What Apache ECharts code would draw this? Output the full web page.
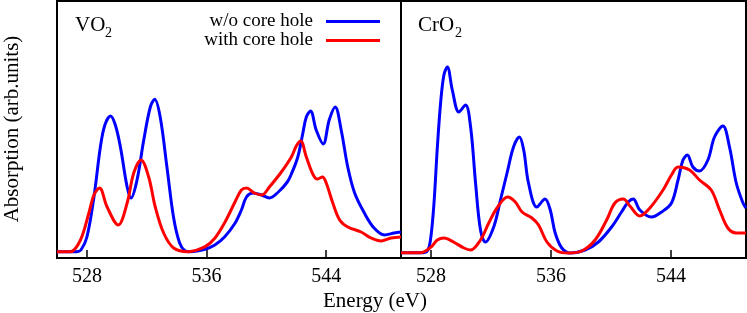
<!DOCTYPE html>
<html>
<head>
<meta charset="utf-8">
<script src="https://cdn.jsdelivr.net/npm/echarts@6/dist/echarts.min.js"></script>
<style>
  html, body { margin: 0; padding: 0; background: #fff; }
  #chart { width: 747px; height: 313px; }
</style>
</head>
<body>
<div id="chart"></div>
<script>
// energy ticks (eV)
var energyTicks = [528, 536, 544];

// VO2, without core hole
var vo2NoHoleE = [526, 527.3, 527.6, 528.0, 528.47, 528.9, 529.2, 529.58, 529.9, 530.24, 530.69, 530.95, 531.35, 531.8, 532.24, 532.53, 532.9, 533.35, 533.8, 534.2, 534.55, 534.9, 535.9, 536.55, 537.2, 537.9, 538.33, 538.67, 539.1, 539.67, 540.2, 540.8, 541.4, 541.67, 542.1, 542.44, 542.67, 542.95, 543.33, 543.8, 544.2, 544.6, 545.0, 545.44, 545.9, 546.55, 547.2, 547.9, 548.55, 549];
var vo2NoHole  = [6.3, 6.3, 8, 21, 61, 111, 133, 142, 133, 111, 71, 60, 78, 118, 151, 158.7, 141, 91, 40, 15, 7.3, 6.3, 8.7, 13, 21, 34.7, 48, 61, 65, 63, 60, 66, 76, 84, 101, 125, 141, 147, 128, 114, 138, 151, 128, 91, 65, 45, 30, 23, 25, 26];

// VO2, with core hole
var vo2HoleE = [526, 526.9, 527.57, 528.13, 528.47, 528.84, 529.35, 530.09, 530.69, 531.13, 531.62, 532.13, 532.57, 533.13, 533.8, 534.77, 535.9, 536.55, 537.2, 537.9, 538.33, 538.67, 539.2, 539.7, 540.2, 541.0, 541.67, 542.0, 542.29, 542.67, 543.1, 543.4, 543.75, 544.0, 544.44, 544.9, 545.44, 546.33, 547.0, 547.67, 548.33, 549];
var vo2Hole  = [6.3, 6.3, 18, 45, 63, 70, 51, 33, 55, 85, 98, 81, 51, 25, 10, 6.3, 11.3, 19.7, 35, 56, 68, 70, 65, 63, 71, 86, 101, 112, 117, 101, 84, 79, 81, 75, 55, 38, 31, 26, 20, 17, 20, 21];

// CrO2, without core hole
var cro2NoHoleE = [526, 527.5, 527.8, 528.0, 528.2, 528.42, 528.64, 528.86, 529.09, 529.42, 529.86, 530.3, 530.64, 530.97, 531.3, 531.63, 532.18, 532.63, 533.07, 533.5, 533.89, 534.18, 534.5, 535.06, 535.6, 535.95, 536.28, 536.72, 537.28, 538.27, 539.16, 540.04, 540.7, 541.15, 541.48, 541.92, 542.7, 543.37, 544.03, 544.47, 544.8, 545.09, 545.46, 545.9, 546.46, 546.9, 547.46, 547.9, 548.35, 548.8, 549];
var cro2NoHole  = [5.3, 5.3, 8, 22, 55, 110, 155, 183, 191, 168, 146, 153, 131, 75, 28, 16, 31, 58, 85, 111, 121, 108, 75, 51, 59, 48, 25, 10, 5, 8, 16, 31, 46, 56, 59, 48, 41, 46, 55, 78, 98, 103, 91, 87, 98, 121, 132, 111, 75, 55, 50];

// CrO2, with core hole
var cro2HoleE = [526, 527.3, 528.0, 528.42, 528.86, 529.5, 530.2, 530.64, 531.3, 531.85, 532.4, 533.1, 533.62, 534.07, 534.73, 535.17, 535.73, 536.4, 537.16, 538.05, 538.94, 539.71, 540.26, 540.82, 541.26, 541.92, 542.59, 543.47, 544.03, 544.47, 545.24, 545.9, 546.68, 547.24, 547.79, 548.35, 549];
var cro2Hole  = [5.3, 5.3, 11, 18, 20, 16, 10, 8, 18, 35, 50, 61, 56, 46, 40, 33, 16, 7, 5, 7, 18, 38, 55, 59, 52, 42, 50, 68, 83, 91, 88, 78, 68, 48, 30, 25, 25];

function pairs(xs, ys) {
    return xs.map(function (x, i) { return [x, ys[i]]; });
}

var serif = '"Liberation Serif", "DejaVu Serif", serif';

function xAxisFor(idx) {
    return {
        gridIndex: idx,
        type: 'value',
        min: 526,
        max: 549,
        axisLine: { show: false },
        splitLine: { show: false },
        axisTick: {
            show: true,
            inside: true,
            length: 8,
            customValues: energyTicks,
            lineStyle: { color: '#000', width: 1.5 }
        },
        axisLabel: {
            show: true,
            margin: 9,
            customValues: energyTicks,
            color: '#000',
            fontFamily: serif,
            fontSize: 20
        }
    };
}

function yAxisFor(idx) {
    return {
        gridIndex: idx,
        type: 'value',
        min: 0,
        max: 257,
        show: false
    };
}

function lineSeries(name, color, idx, data) {
    return {
        name: name,
        type: 'line',
        xAxisIndex: idx,
        yAxisIndex: idx,
        data: data,
        symbol: 'none',
        smooth: 0.35,
        animation: false,
        lineStyle: { color: color, width: 3 },
        itemStyle: { color: color }
    };
}

var chart = echarts.init(document.getElementById('chart'));
var option = {
    backgroundColor: '#fff',
    animation: false,
    grid: [
        { left: 57, top: 1, width: 344, height: 257, show: true, borderColor: '#000', borderWidth: 2, backgroundColor: 'transparent' },
        { left: 401, top: 1, width: 345, height: 257, show: true, borderColor: '#000', borderWidth: 2, backgroundColor: 'transparent' }
    ],
    xAxis: [xAxisFor(0), xAxisFor(1)],
    yAxis: [yAxisFor(0), yAxisFor(1)],
    legend: {
        orient: 'vertical',
        right: 362,
        top: 7,
        align: 'right',
        icon: 'rect',
        itemWidth: 54,
        itemHeight: 3,
        itemGap: 0,
        textStyle: {
            fontFamily: serif,
            fontSize: 19,
            lineHeight: 19,
            color: '#000',
            padding: [0, 8, 0, 0]
        },
        data: ['w/o core hole', 'with core hole']
    },
    series: [
        lineSeries('w/o core hole', '#0000ff', 0, pairs(vo2NoHoleE, vo2NoHole)),
        lineSeries('with core hole', '#ff0000', 0, pairs(vo2HoleE, vo2Hole)),
        lineSeries('w/o core hole', '#0000ff', 1, pairs(cro2NoHoleE, cro2NoHole)),
        lineSeries('with core hole', '#ff0000', 1, pairs(cro2HoleE, cro2Hole))
    ],
    graphic: [
        { type: 'text', left: 75, top: 15, style: { text: 'VO', font: '21px ' + serif, fill: '#000' } },
        { type: 'text', left: 105, top: 26, style: { text: '2', font: '14px ' + serif, fill: '#000' } },
        { type: 'text', left: 418, top: 15, style: { text: 'CrO', font: '21px ' + serif, fill: '#000' } },
        { type: 'text', left: 455, top: 26, style: { text: '2', font: '14px ' + serif, fill: '#000' } },
        {
            type: 'text', x: 12, y: 129, rotation: Math.PI / 2,
            style: { text: 'Absorption (arb.units)', font: '21px ' + serif, fill: '#000', align: 'center', verticalAlign: 'middle' }
        },
        {
            type: 'text', x: 375, y: 301,
            style: { text: 'Energy (eV)', font: '21px ' + serif, fill: '#000', align: 'center', verticalAlign: 'middle' }
        }
    ]
};
chart.setOption(option);
</script>
</body>
</html>
